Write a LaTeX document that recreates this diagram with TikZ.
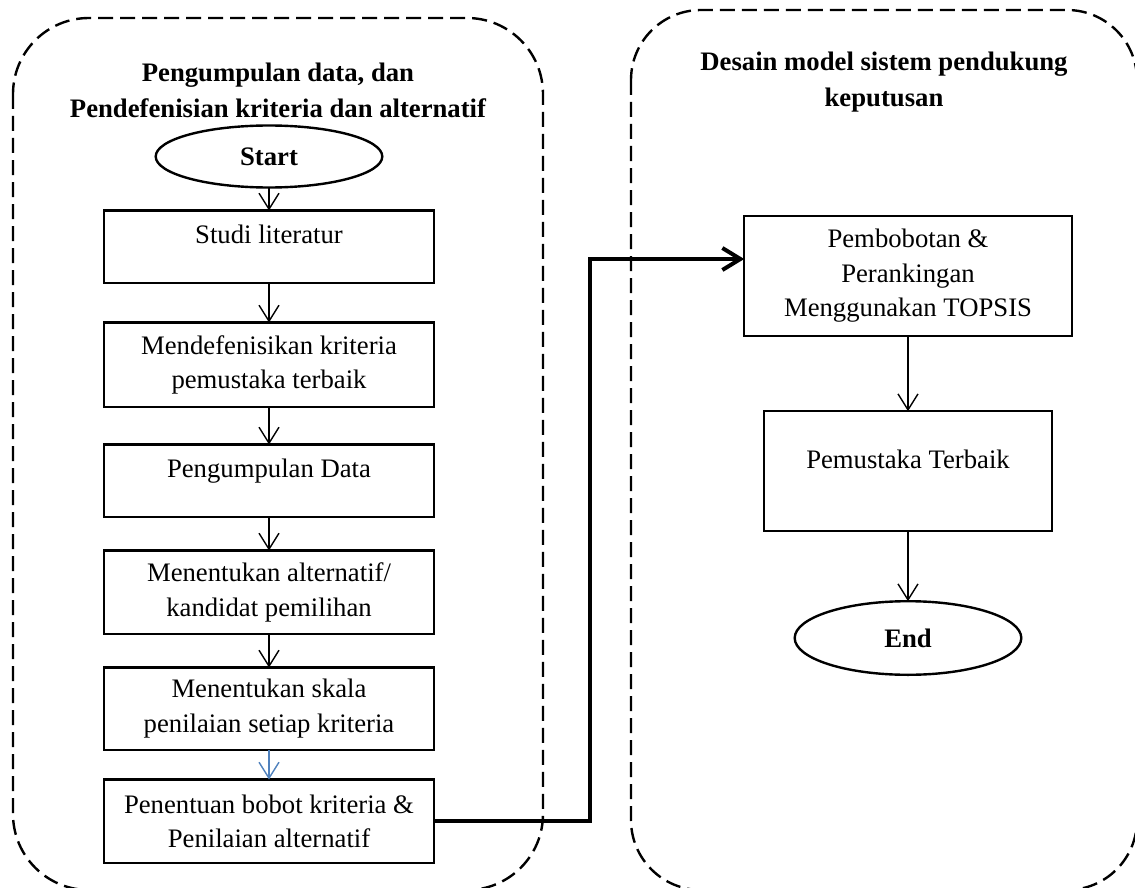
\documentclass[tikz,border=0pt]{standalone}
\usepackage{fontspec}
\setmainfont{Liberation Serif}
\usepackage{xcolor}
\usepackage{tikz}
\usetikzlibrary{shapes.geometric, arrows.meta, positioning}
\definecolor{flowBlue}{RGB}{79, 129, 189}

\begin{document}
\begin{tikzpicture}[
    x=0.5pt, y=-0.5pt,
    font=\fontsize{13.35}{17.25}\selectfont,
    stepbox/.style={rectangle, draw, line width=1.2pt, outer sep=0pt, text centered, align=center, inner sep=0pt, minimum width=164.8pt},
    onerow/.style={text height=9.5pt, text depth=12.5pt},
    termnode/.style={ellipse, draw, line width=1.2pt, outer sep=0pt, inner sep=0pt, minimum width=113.3pt, minimum height=31pt, font=\fontsize{13.35}{17.25}\selectfont\bfseries},
    phasetitle/.style={align=center, font=\fontsize{13.35}{18}\selectfont\bfseries},
    group/.style={draw, line width=1.2pt, dash pattern=on 7.5pt off 3.5pt},
    flow/.style={draw, line width=0.7pt, -{Straight Barb[length=8pt, width=10pt]}},
    bigflow/.style={draw, line width=2pt, -{Straight Barb[length=9pt, width=11pt]}}
  ]
    \useasboundingbox (0,0) rectangle (1135,888);

    % dashed phase frames
    \draw[group, rounded corners=38pt] (13,18) rectangle (543,890);
    \draw[group, rounded corners=35pt] (631,10) rectangle (1137,890);
    \node[phasetitle] (t1) at (278,90) {Pengumpulan data, dan\\Pendefenisian kriteria dan alternatif};
    \node[phasetitle] (t2) at (884,82) {Desain model sistem pendukung\\keputusan};

    % left column
    \node[termnode] (start) at (269,156.5) {Start};
    \node[stepbox, onerow, minimum height=36.3pt, below=11.5pt of start] (s1) {Studi literatur};
    \node[stepbox, minimum height=42.3pt, below=19.7pt of s1] (s2) {Mendefenisikan kriteria\\pemustaka terbaik};
    \node[stepbox, onerow, minimum height=36.3pt, below=18.7pt of s2] (s3) {Pengumpulan Data};
    \node[stepbox, minimum height=41.8pt, below=16.7pt of s3] (s4) {Menentukan alternatif/\\kandidat pemilihan};
    \node[stepbox, minimum height=41.3pt, below=16.7pt of s4] (s5) {Menentukan skala\\penilaian setiap kriteria};
    \node[stepbox, minimum height=41.8pt, below=14.7pt of s5] (s6) {Penentuan bobot kriteria \&\\Penilaian alternatif};

    % right column
    \node[stepbox, minimum width=163.8pt, minimum height=59.8pt] (r1) at (908,276) {Pembobotan \&\\Perankingan\\Menggunakan TOPSIS};
    \node[stepbox, onerow, minimum width=143.8pt, minimum height=59.8pt, below=37.7pt of r1] (r2) {Pemustaka Terbaik};
    \node[termnode, minimum height=36.8pt, below=35.2pt of r2] (stop) {End};

    \path[flow] (start) -- (s1);
    \path[flow] (s1) -- (s2);
    \path[flow] (s2) -- (s3);
    \path[flow] (s3) -- (s4);
    \path[flow] (s4) -- (s5);
    \path[flow, draw=flowBlue] (s5) -- (s6);
    \path[flow] (r1) -- (r2);
    \path[flow] (r2) -- (stop);

    % hand-over between the two phases
    \coordinate (knee) at (590,259);
    \path[bigflow] (s6.east) -| (knee) -- (knee -| r1.west);
  \end{tikzpicture}
\end{document}
